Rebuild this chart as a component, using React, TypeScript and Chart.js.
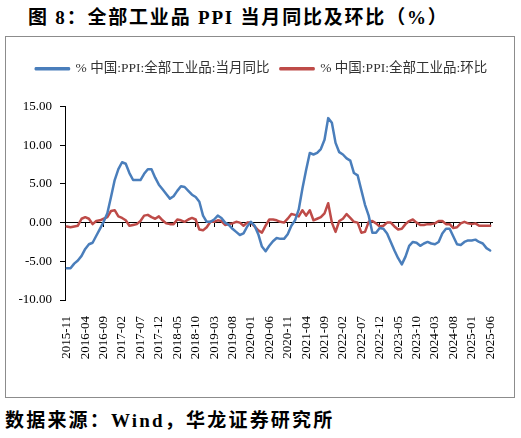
import { useEffect, useRef } from 'react';
import { Chart, registerables } from 'chart.js';

Chart.register(...registerables);

// Categories: monthly, 2015-11 .. 2025-06
const START_YEAR = 2015;
const START_MONTH = 11;
const MONTH_COUNT = 116;
const months: string[] = [];
for (let i = 0; i < MONTH_COUNT; i++) {
  const m = START_MONTH - 1 + i;
  const y = START_YEAR + Math.floor(m / 12);
  const mm = (m % 12) + 1;
  months.push(`${y}-${mm < 10 ? '0' + mm : mm}`);
}

const SERIES_YOY = '% 中国:PPI:全部工业品:当月同比';
const SERIES_MOM = '% 中国:PPI:全部工业品:环比';

const yoy: number[] = [
  -5.9, -5.9,
  -5.3, -4.9, -4.3, -3.4, -2.8, -2.6, -1.7, -0.8, 0.1, 1.2, 3.3, 5.5,
  6.9, 7.8, 7.6, 6.4, 5.5, 5.5, 5.5, 6.3, 6.9, 6.9, 5.8, 4.9,
  4.3, 3.7, 3.1, 3.4, 4.1, 4.7, 4.6, 4.1, 3.6, 3.3, 2.7, 0.9,
  0.1, 0.1, 0.4, 0.9, 0.6, 0.0, -0.3, -0.8, -1.2, -1.6, -1.4, -0.5,
  0.1, -0.4, -1.5, -3.1, -3.7, -3.0, -2.4, -2.0, -2.1, -2.1, -1.5, -0.4,
  0.3, 1.7, 4.4, 6.8, 9.0, 8.8, 9.0, 9.5, 10.7, 13.5, 12.9, 10.3,
  9.1, 8.8, 8.3, 8.0, 6.4, 6.1, 4.2, 2.3, 0.9, -1.3, -1.3, -0.7,
  -0.8, -1.4, -2.5, -3.6, -4.6, -5.4, -4.4, -3.0, -2.5, -2.6, -3.0, -2.7,
  -2.5, -2.7, -2.8, -2.5, -1.4, -0.8, -0.8, -1.8, -2.8, -2.9, -2.5, -2.3,
  -2.3, -2.2, -2.5, -2.7, -3.3, -3.6,
];

const mom: number[] = [
  -0.5, -0.6,
  -0.5, -0.4, 0.5, 0.7, 0.5, -0.2, 0.2, 0.3, 0.5, 0.7, 1.5, 1.6,
  0.8, 0.6, 0.3, -0.4, -0.3, -0.2, 0.2, 0.9, 1.0, 0.7, 0.5, 0.8,
  0.3, -0.1, -0.2, -0.2, 0.4, 0.3, 0.1, 0.4, 0.6, 0.4, -0.9, -1.0,
  -0.6, 0.1, 0.1, 0.3, 0.2, -0.3, -0.2, -0.1, 0.1, 0.0, -0.4, 0.0,
  0.0, -0.5, -1.0, -1.3, -0.4, 0.4, 0.4, 0.3, 0.1, 0.0, 0.5, 1.1,
  1.0, 0.8, 1.6, 0.9, 1.6, 0.3, 0.5, 0.7, 1.2, 2.5, 0.0, -1.2,
  0.2, 0.5, 1.1, 0.6, 0.1, 0.0, -1.3, -1.2, 0.1, 0.2, -0.1, -0.5,
  -0.4, 0.0, 0.0, -0.5, -0.9, -0.8, -0.2, 0.2, 0.4, 0.0, -0.3, -0.3,
  -0.2, -0.2, -0.1, 0.2, 0.2, -0.2, -0.2, -0.7, -0.6, -0.1, 0.1, -0.1,
  -0.2, -0.1, -0.4, -0.4, -0.4, -0.4,
];

const Y_MIN = -10;
const Y_MAX = 15;
const Y_STEP = 5;
const LABEL_EVERY = 5;

const FONT = "'Liberation Serif', 'Times New Roman', 'Noto Sans CJK SC', serif";
const BLUE = '#4a7ebb';
const RED = '#be4b48';

const legendSpacer = {
  id: 'legendSpacer',
  beforeInit(chart: any) {
    const legend = chart.legend;
    if (!legend) return;
    const orig = legend.fit;
    legend.fit = function fit() {
      orig.bind(legend)();
      this.height += 21;
    };
  },
};

export default function App() {
  const ref = useRef<HTMLCanvasElement | null>(null);

  useEffect(() => {
    if (!ref.current) return;
    const chart = new Chart(ref.current, {
      type: 'line',
      data: {
        labels: months,
        datasets: [
          {
            label: SERIES_YOY,
            data: yoy,
            borderColor: BLUE,
            backgroundColor: BLUE,
            borderWidth: 2.5,
            pointRadius: 0,
            tension: 0,
            borderJoinStyle: 'round',
            borderCapStyle: 'round',
            xAxisID: 'x',
            yAxisID: 'y',
          },
          {
            label: SERIES_MOM,
            data: mom,
            borderColor: RED,
            backgroundColor: RED,
            borderWidth: 2.5,
            pointRadius: 0,
            tension: 0,
            borderJoinStyle: 'round',
            borderCapStyle: 'round',
            xAxisID: 'x',
            yAxisID: 'y',
          },
        ],
      },
      plugins: [legendSpacer],
      options: {
        animation: false,
        responsive: false,
        devicePixelRatio: 1,
        layout: { padding: { left: 3, right: 0, top: 14, bottom: 0 } },
        plugins: {
          legend: {
            display: true,
            position: 'top',
            labels: {
              boxWidth: 33,
              boxHeight: 1,
              padding: 11,
              color: '#333',
              font: { family: FONT, size: 13.5 },
            },
          },
          tooltip: { enabled: false },
        },
        scales: {
          x: {
            type: 'category',
            offset: true,
            position: 'bottom',
            grid: { display: false, offset: false },
            border: { display: false },
            ticks: {
              autoSkip: false,
              maxRotation: 90,
              minRotation: 90,
              padding: 8,
              color: '#000',
              font: { family: FONT, size: 13 },
              callback: (_v: any, i: number) => (i % LABEL_EVERY === 0 ? months[i] : null),
            },
            afterFit: (s: any) => {
              s.height = 97;
            },
          },
          x2: {
            type: 'category',
            labels: months,
            offset: true,
            position: { y: 0 },
            grid: {
              drawOnChartArea: false,
              drawTicks: true,
              tickLength: 4,
              offset: false,
              color: (ctx: any) => (ctx.index % LABEL_EVERY === 0 && ctx.index > 0 ? '#000' : 'rgba(0,0,0,0)'),
            },
            border: { display: true, color: '#000', width: 1 },
            ticks: { display: false, autoSkip: false },
            afterFit: (s: any) => {
              s.height = 0;
            },
          },
          y: {
            type: 'linear',
            min: Y_MIN,
            max: Y_MAX,
            position: 'left',
            grid: {
              drawOnChartArea: false,
              drawTicks: true,
              tickLength: 5,
              color: '#000',
            },
            border: { display: true, color: '#000', width: 1 },
            ticks: {
              stepSize: Y_STEP,
              padding: 8,
              color: '#000',
              font: { family: FONT, size: 13 },
              callback: (v: any) => Number(v).toFixed(2),
            },
            afterFit: (s: any) => {
              s.width = 56;
            },
          },
          ySpacer: {
            type: 'linear',
            position: 'right',
            min: Y_MIN,
            max: Y_MAX,
            grid: { display: false },
            border: { display: false },
            ticks: { display: false },
            afterFit: (s: any) => {
              s.width = 22;
            },
          },
        },
      },
    } as any);
    return () => chart.destroy();
  }, []);

  return (
    <div style={{ position: 'absolute', left: 0, top: 0, width: 521, height: 438, background: '#fff' }}>
      <div
        style={{
          position: 'absolute',
          left: 28,
          top: 5,
          fontFamily: "'Liberation Serif', 'Noto Sans CJK SC', serif",
          fontWeight: 'bold',
          fontSize: 19,
          letterSpacing: '1.8px',
          lineHeight: '26px',
          color: '#000',
          whiteSpace: 'nowrap',
        }}
      >
        图 8：全部工业品 PPI 当月同比及环比（%）
      </div>
      <div
        style={{
          position: 'absolute',
          left: 5,
          top: 36,
          width: 508,
          height: 360,
          border: '1px solid #8c8c8c',
        }}
      >
        <canvas ref={ref} width={508} height={360} style={{ display: 'block', width: 508, height: 360 }} />
      </div>
      <div
        style={{
          position: 'absolute',
          left: 5,
          top: 408,
          fontFamily: "'Liberation Serif', 'Noto Sans CJK SC', serif",
          fontWeight: 'bold',
          fontSize: 19,
          letterSpacing: '2.2px',
          lineHeight: '26px',
          color: '#000',
          whiteSpace: 'nowrap',
        }}
      >
        数据来源：Wind，华龙证券研究所
      </div>
    </div>
  );
}
